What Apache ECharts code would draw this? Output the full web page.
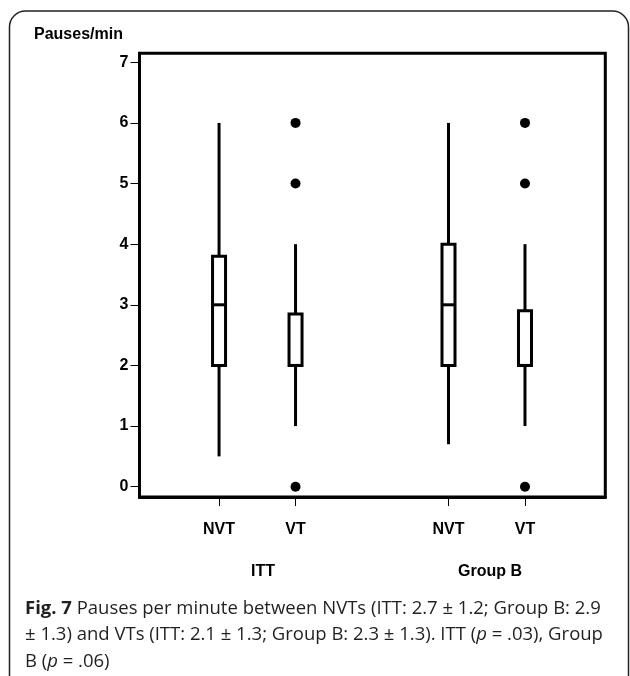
<!DOCTYPE html>
<html>
<head>
<meta charset="utf-8">
<script src="https://cdn.jsdelivr.net/npm/echarts@6/dist/echarts.min.js"></script>
<style>
html,body{margin:0;padding:0;background:#fff;}
#chart{width:630px;height:676px;}
</style>
</head>
<body>
<div id="chart"></div>
<script>
// ---- data ----
const categories = ['NVT', 'VT', 'NVT', 'VT'];
const catSlots = [1, 2, 4, 5];
const groups = ['ITT', 'Group B'];
const whiskerLow = [0.5, 1, 0.7, 1];
const q1 = [2, 2, 2, 2];
const median = [3, 2, 3, 2];
const q3 = [3.8, 2.85, 4, 2.9];
const whiskerHigh = [6, 4, 6, 4];
const outliers = [[], [0, 5, 6], [], [0, 5, 6]];
const yTicks = [0, 1, 2, 3, 4, 5, 6, 7];
const yTitle = 'Pauses/min';

// ---- build ----
const boxData = categories.map((c, i) => [catSlots[i], whiskerLow[i], q1[i], median[i], q3[i], whiskerHigh[i]]);
const outlierData = [];
outliers.forEach((arr, i) => arr.forEach(v => outlierData.push([catSlots[i], v])));

const chart = echarts.init(document.getElementById('chart'), null, {renderer: 'canvas'});
const FONT = '"Liberation Sans", Arial, sans-serif';
const CFONT = '"Open Sans", sans-serif';

function renderBox(params, api) {
  const x = api.value(0);
  const pLow = api.coord([x, api.value(1)]);
  const pQ1 = api.coord([x, api.value(2)]);
  const pMed = api.coord([x, api.value(3)]);
  const pQ3 = api.coord([x, api.value(4)]);
  const pHigh = api.coord([x, api.value(5)]);
  const hw = 6.5;
  const st = {stroke: '#000', lineWidth: 3, fill: null};
  return {
    type: 'group',
    children: [
      {type: 'line', shape: {x1: pLow[0], y1: pLow[1], x2: pQ1[0], y2: pQ1[1]}, style: st},
      {type: 'line', shape: {x1: pQ3[0], y1: pQ3[1], x2: pHigh[0], y2: pHigh[1]}, style: st},
      {type: 'rect', shape: {x: pQ3[0] - hw, y: pQ3[1], width: hw * 2, height: pQ1[1] - pQ3[1]},
        style: {stroke: '#000', lineWidth: 3, fill: '#fff'}},
      {type: 'line', shape: {x1: pMed[0] - hw, y1: pMed[1], x2: pMed[0] + hw, y2: pMed[1]}, style: st}
    ]
  };
}

const option = {
  animation: false,
  backgroundColor: '#fff',
  grid: {left: 139.5, right: 24.7, top: 53.3, bottom: 179, show: true, borderColor: '#000', borderWidth: 3, containLabel: false},
  xAxis: {
    type: 'value', min: -0.04, max: 6.05,
    splitLine: {show: false},
    axisLine: {show: true, onZero: false, lineStyle: {color: '#000', width: 3}},
    axisTick: {show: true, customValues: catSlots, length: 9, lineStyle: {color: '#000', width: 1}},
    axisLabel: {
      customValues: catSlots, margin: 25,
      color: '#000', fontFamily: FONT, fontWeight: 'bold', fontSize: 16,
      formatter: v => { const i = catSlots.indexOf(v); return i >= 0 ? categories[i] : ''; }
    }
  },
  yAxis: {
    type: 'value', min: -0.17, max: 7.148,
    splitLine: {show: false},
    axisLine: {show: true, onZero: false, lineStyle: {color: '#000', width: 3}},
    axisTick: {show: true, customValues: yTicks, length: 9, lineStyle: {color: '#000', width: 1}},
    axisLabel: {customValues: yTicks, margin: 11, color: '#000', fontFamily: FONT, fontWeight: 'bold', fontSize: 16}
  },
  series: [
    {type: 'custom', renderItem: renderBox, data: boxData, encode: {x: 0, y: [1, 2, 3, 4, 5]}, z: 3},
    {type: 'scatter', data: outlierData, symbol: 'circle', symbolSize: 10, itemStyle: {color: '#000', opacity: 1}, z: 4}
  ],
  graphic: [
    {type: 'rect', shape: {x: 9.5, y: 11, width: 619, height: 700, r: [16, 16, 0, 0]},
      style: {fill: null, stroke: '#222', lineWidth: 1.5}, z: -10},
    {type: 'text', left: 34, top: 27, style: {text: yTitle, font: 'bold 16px ' + FONT, fill: '#000'}},
    {type: 'text', x: 263, y: 572, style: {text: groups[0], font: 'bold 16px ' + FONT, fill: '#000', align: 'center', verticalAlign: 'middle'}},
    {type: 'text', x: 490, y: 572, style: {text: groups[1], font: 'bold 16px ' + FONT, fill: '#000', align: 'center', verticalAlign: 'middle'}},
    {type: 'text', x: 25, y: 595, style: {
      text: '{b|Fig. 7} Pauses per minute between NVTs (ITT: 2.7 ± 1.2; Group B: 2.9\n± 1.3) and VTs (ITT: 2.1 ± 1.3; Group B: 2.3 ± 1.3). ITT ({i|p} = .03), Group\nB ({i|p} = .06)',
      fill: '#231f20', fontFamily: CFONT, fontSize: 18.5, lineHeight: 26.5,
      rich: {
        b: {fontFamily: CFONT, fontWeight: 'bold', fontSize: 18.5, fill: '#231f20', lineHeight: 26.5},
        i: {fontFamily: CFONT, fontStyle: 'italic', fontSize: 18.5, fill: '#231f20', lineHeight: 26.5}
      }
    }}
  ]
};
chart.setOption(option);
</script>
</body>
</html>
